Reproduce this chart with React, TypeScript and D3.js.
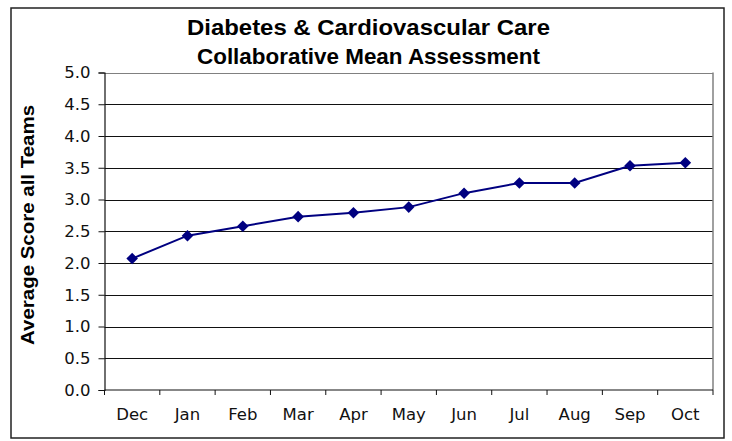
import React, { useEffect, useRef } from 'react';
import * as d3 from 'd3';

const months = ['Dec', 'Jan', 'Feb', 'Mar', 'Apr', 'May', 'Jun', 'Jul', 'Aug', 'Sep', 'Oct'];
const scores = [2.07, 2.43, 2.58, 2.73, 2.79, 2.88, 3.1, 3.26, 3.26, 3.53, 3.58];
const yTicks = [0, 0.5, 1, 1.5, 2, 2.5, 3, 3.5, 4, 4.5, 5];
const titleLines = ['Diabetes & Cardiovascular Care', 'Collaborative Mean Assessment'];
const yTitle = 'Average Score all Teams';

function App() {
  const svgRef = useRef<SVGSVGElement>(null);

  useEffect(() => {
    const width = 732;
    const height = 441;
    const plot = { left: 104.5, right: 713, top: 72.5, bottom: 390 };

    const svg = d3.select(svgRef.current).attr('width', width).attr('height', height);
    svg.selectAll('*').remove();

    // outer chart frame
    svg
      .append('rect')
      .attr('x', 11)
      .attr('y', 8)
      .attr('width', 713)
      .attr('height', 430)
      .attr('fill', 'white')
      .attr('stroke', '#222')
      .attr('stroke-width', 1.5);

    const x = d3.scaleBand().domain(months).range([plot.left, plot.right]).padding(0);
    const y = d3.scaleLinear().domain([0, 5]).range([plot.bottom, plot.top]);

    // title
    svg
      .selectAll('.title')
      .data(titleLines)
      .enter()
      .append('text')
      .attr('class', 'title')
      .attr('x', 368.5)
      .attr('y', (d, i) => 35 + i * 29)
      .attr('text-anchor', 'middle')
      .attr('textLength', (d, i) => (i === 0 ? 363 : 343))
      .attr('lengthAdjust', 'spacingAndGlyphs')
      .style('font-family', '"Liberation Sans", Arial, sans-serif')
      .style('font-weight', 'bold')
      .style('font-size', '22px')
      .text((d) => d);

    // grid lines
    svg
      .append('g')
      .selectAll('line')
      .data(yTicks.filter((t) => t > 0))
      .enter()
      .append('line')
      .attr('x1', plot.left)
      .attr('x2', plot.right)
      .attr('y1', (d) => Math.round(y(d)) + 0.5)
      .attr('y2', (d) => Math.round(y(d)) + 0.5)
      .attr('stroke', (d) => (d === 5 ? '#808080' : '#111'))
      .attr('stroke-width', 1);

    // right border of plot area
    svg
      .append('line')
      .attr('x1', plot.right)
      .attr('x2', plot.right)
      .attr('y1', plot.top)
      .attr('y2', plot.bottom)
      .attr('stroke', '#808080')
      .attr('stroke-width', 1.5);

    // y axis
    const yAxis = svg
      .append('g')
      .attr('transform', `translate(${plot.left},0)`)
      .call(
        d3
          .axisLeft(y)
          .tickValues(yTicks)
          .tickSize(6)
          .tickPadding(8)
          .tickFormat((d) => d3.format('.1f')(d as number))
      );
    yAxis.select('.domain').attr('stroke', '#111').attr('stroke-width', 1.2);
    yAxis.selectAll('line').attr('stroke', '#111');
    yAxis
      .selectAll('text')
      .style('font-family', '"DejaVu Sans", Verdana, sans-serif')
      .style('font-size', '16.5px')
      .attr('fill', '#111');

    // x axis (ticks between categories)
    const xg = svg.append('g');
    xg.append('line')
      .attr('x1', plot.left)
      .attr('x2', plot.right)
      .attr('y1', plot.bottom)
      .attr('y2', plot.bottom)
      .attr('stroke', '#111')
      .attr('stroke-width', 1.2);
    const bounds = months.map((m) => x(m) as number).concat([plot.right]);
    xg.selectAll('.xtick')
      .data(bounds)
      .enter()
      .append('line')
      .attr('x1', (d) => d)
      .attr('x2', (d) => d)
      .attr('y1', plot.bottom)
      .attr('y2', plot.bottom + 5)
      .attr('stroke', '#111');
    xg.selectAll('.xlabel')
      .data(months)
      .enter()
      .append('text')
      .attr('x', (d) => (x(d) as number) + x.bandwidth() / 2)
      .attr('y', 420)
      .attr('text-anchor', 'middle')
      .style('font-family', '"DejaVu Sans", Verdana, sans-serif')
      .style('font-size', '16.5px')
      .attr('fill', '#111')
      .text((d) => d);

    // y axis title
    svg
      .append('text')
      .attr('transform', `translate(34,225) rotate(-90)`)
      .attr('text-anchor', 'middle')
      .attr('textLength', 240)
      .attr('lengthAdjust', 'spacingAndGlyphs')
      .style('font-family', '"Liberation Sans", Arial, sans-serif')
      .style('font-weight', 'bold')
      .style('font-size', '17.5px')
      .text(yTitle);

    // series line
    const line = d3
      .line<number>()
      .x((d, i) => (x(months[i]) as number) + x.bandwidth() / 2)
      .y((d) => y(d));

    svg
      .append('path')
      .datum(scores)
      .attr('d', line)
      .attr('fill', 'none')
      .attr('stroke', '#000080')
      .attr('stroke-width', 2);

    const diamond = d3.symbol().type(d3.symbolDiamond2).size(85);
    svg
      .selectAll('.pt')
      .data(scores)
      .enter()
      .append('path')
      .attr('class', 'pt')
      .attr('d', diamond)
      .attr('transform', (d, i) => `translate(${(x(months[i]) as number) + x.bandwidth() / 2},${y(d)})`)
      .attr('fill', '#000080');
  }, []);

  return (
    <div style={{ position: 'absolute', left: 0, top: 0 }}>
      <svg ref={svgRef}></svg>
    </div>
  );
}

export default App;
